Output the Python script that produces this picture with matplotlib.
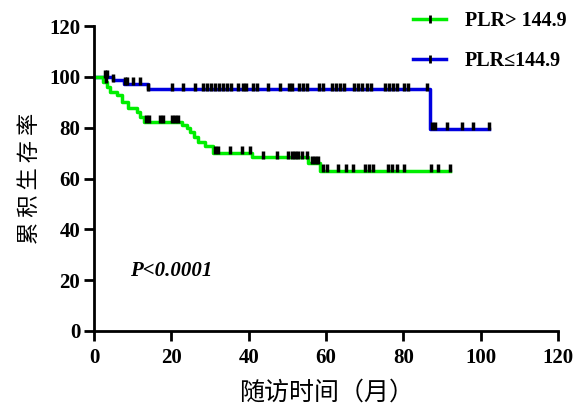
import matplotlib.pyplot as plt
from matplotlib.lines import Line2D

plt.rcParams['font.family'] = ['Liberation Serif', 'DejaVu Serif']

# survival steps (time in months, survival %)
hi_t = [0, 2.4, 3.4, 4.2, 5.8, 7.2, 8.8, 11.0, 11.9, 12.8, 22.7, 24.0, 24.8, 25.9, 26.8, 28.7, 30.8, 40.8, 55.4, 58.4, 92.2]
hi_s = [100, 98.0, 96.0, 94.2, 92.8, 90.2, 87.9, 86.3, 84.3, 82.3, 81.0, 79.8, 78.4, 76.4, 74.5, 72.8, 70.1, 68.4, 66.1, 63.1, 63.1]
lo_t = [0, 4.9, 7.8, 14.0, 86.9, 102.1]
lo_s = [100, 98.7, 97.4, 95.2, 79.5, 79.5]

# censored observations
hi_cens = [3.1, 13.4, 14.2, 17.1, 17.9, 20.1, 20.9, 21.8, 31.3, 32.1, 35.2, 38.2, 40.2,
           43.8, 47.2, 50.2, 51.1, 52.0, 52.8, 53.7, 55.0, 56.3, 57.1, 58.0,
           59.3, 60.2, 63.2, 65.2, 67.1, 70.1, 71.1, 72.1, 76.1, 77.1, 78.3, 80.2,
           87.1, 89.0, 92.0]
lo_cens = [2.8, 3.2, 4.9, 7.9, 8.4, 10.1, 11.8, 14.0, 20.1, 23.1, 26.1, 28.2, 29.2, 30.3,
           31.3, 32.4, 33.4, 34.5, 35.4, 37.3, 38.4, 39.2, 41.2, 42.1, 45.1, 48.1,
           50.3, 51.1, 53.1, 54.1, 55.2, 58.3, 59.3, 61.5, 62.5, 63.5, 64.7,
           67.2, 68.4, 69.4, 70.5, 71.6, 75.3, 76.4, 77.4, 78.3, 80.2, 81.3, 86.2,
           87.3, 88.2, 91.2, 95.1, 98.1, 102.1]


def surv_at(ts, ss, x):
    v = ss[0]
    for t, s in zip(ts, ss):
        if t <= x:
            v = s
    return v


green = '#00ee00'
blue = '#0000e0'

fig = plt.figure(figsize=(5.74, 4.08), dpi=100)
ax = fig.add_axes([0.164, 0.189, 0.808, 0.747])

ax.step(lo_t, lo_s, where='post', color=blue, lw=2.5, zorder=2)
ax.step(hi_t, hi_s, where='post', color=green, lw=2.5, zorder=2.5)
ax.plot(hi_cens, [surv_at(hi_t, hi_s, c) + 1.0 for c in hi_cens], ls='none',
        marker='|', ms=5.5, mew=2.5, color='black', zorder=3)
ax.plot(lo_cens, [surv_at(lo_t, lo_s, c) + 1.0 for c in lo_cens], ls='none',
        marker='|', ms=5.5, mew=2.5, color='black', zorder=3)

ax.set_xlim(0, 120)
ax.set_ylim(0, 120)
ax.set_xticks(range(0, 121, 20))
ax.set_yticks(range(0, 121, 20))
for s in ['top', 'right']:
    ax.spines[s].set_visible(False)
for s in ['left', 'bottom']:
    ax.spines[s].set_linewidth(2)
ax.tick_params(width=2, length=7, labelsize=15)
ax.tick_params(axis='x', pad=5)
ax.tick_params(axis='y', pad=3)
for lab in ax.get_xticklabels() + ax.get_yticklabels():
    lab.set_fontweight('bold')

cjk = ['Noto Sans CJK SC', 'DejaVu Sans']
ax.set_xlabel('随访时间（月）', family=cjk, fontsize=18, labelpad=9)
ax.set_ylabel('累 积 生 存 率', family=cjk, fontsize=16, labelpad=6)

ax.text(9.3, 23.6, 'P<0.0001', fontsize=15, fontweight='bold', style='italic', va='center')

handles = [Line2D([], [], color=green, lw=2.5, marker='|', ms=5.5, mew=2, mec='black'),
           Line2D([], [], color=blue, lw=2.5, marker='|', ms=5.5, mew=2, mec='black')]
leg = fig.legend(handles, ['PLR> 144.9', 'PLR≤144.9'], loc='upper left',
                 bbox_to_anchor=(0.7195, 0.974), frameon=False, handlelength=1.64,
                 handletextpad=0.95, borderpad=0, borderaxespad=0,
                 labelspacing=1.0, prop={'weight': 'bold', 'size': 14.5}, numpoints=1)

fig.savefig('out.png', dpi=100)
